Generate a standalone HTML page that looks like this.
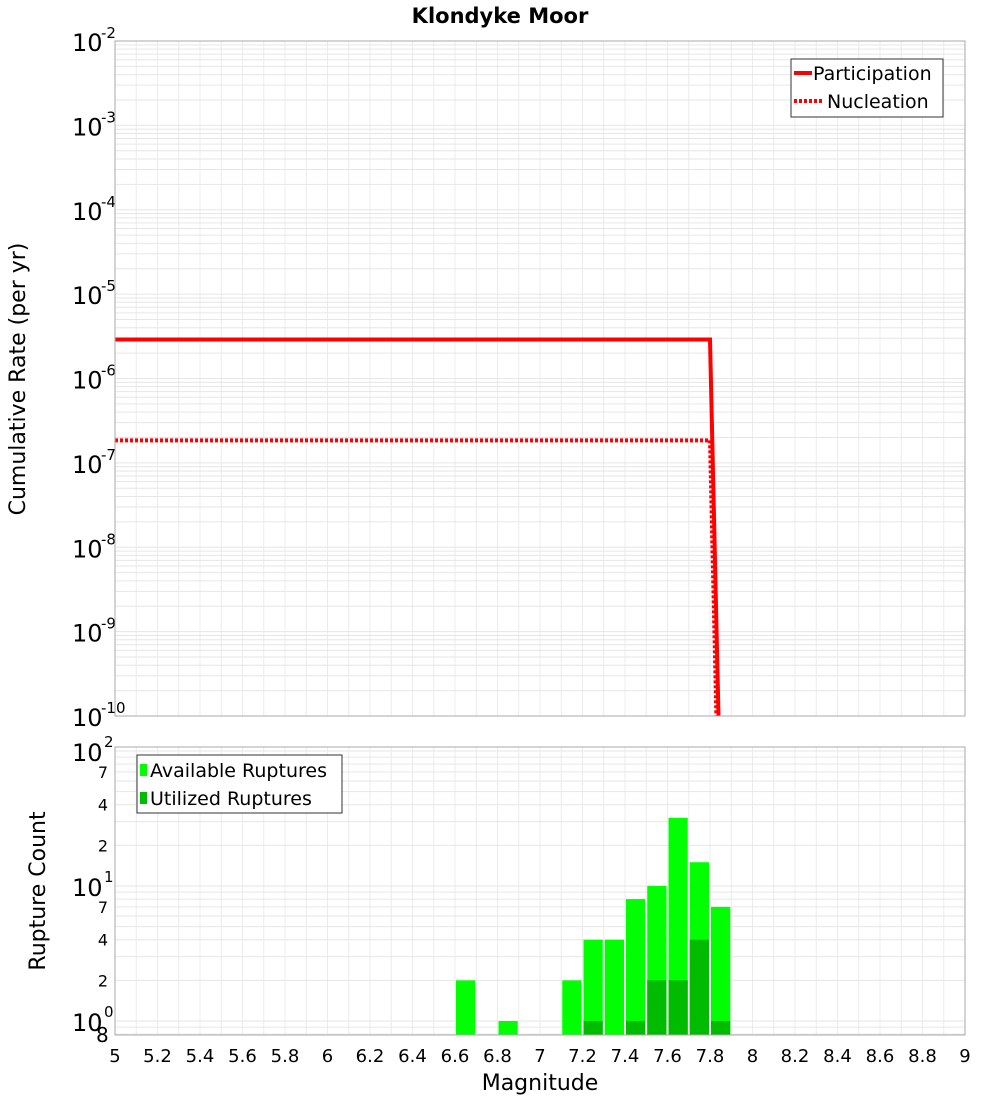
<!DOCTYPE html>
<html><head><meta charset="utf-8"><style>body{margin:0;background:#fff}svg{font-family:"DejaVu Sans","Liberation Sans",sans-serif}</style></head>
<body>
<svg id="c" width="1000" height="1100" xmlns="http://www.w3.org/2000/svg">
<text x="500" y="23" text-anchor="middle" font-weight="bold" font-size="21">Klondyke Moor</text>
<g id="topPlot"></g>
<g id="botPlot"></g>
<text transform="translate(25,379) rotate(-90)" text-anchor="middle" font-size="22">Cumulative Rate (per yr)</text>
<text transform="translate(45,891) rotate(-90)" text-anchor="middle" font-size="22">Rupture Count</text>
<text x="540" y="1090" text-anchor="middle" font-size="22">Magnitude</text>
</svg>
<script>
const partMag=[5,7.8,7.84];
const partRate=[2.9e-6,2.9e-6,1e-10];
const nuclMag=[5,7.8,7.83];
const nuclRate=[1.85e-7,1.85e-7,1e-10];
const binMags=[6.65,6.85,7.15,7.25,7.35,7.45,7.55,7.65,7.75,7.85];
const availCounts=[2,1,2,4,4,8,10,32,15,7];
const usedMags=[7.25,7.45,7.55,7.65,7.75,7.85];
const usedCounts=[1,1,2,2,4,1];
const xTicks=[5,5.2,5.4,5.6,5.8,6,6.2,6.4,6.6,6.8,7,7.2,7.4,7.6,7.8,8,8.2,8.4,8.6,8.8,9];

const NS='http://www.w3.org/2000/svg';
function mk(p,t,a){const e=document.createElementNS(NS,t);for(const k in a)e.setAttribute(k,a[k]);p.appendChild(e);return e;}
const L=115,R=965;
const X=m=>L+(m-5)/4*(R-L);
const T0=41,T1=716;
const YT=v=>T0+(-2-Math.log10(v))/8*(T1-T0);
const B0=747,B1=1035;
const YB=v=>1021-Math.log10(v)*135;
const gTop=document.getElementById('topPlot'),gBot=document.getElementById('botPlot');
function grids(g,y0,y1,ys){
  mk(g,'rect',{x:L,y:y0,width:R-L,height:y1-y0,fill:'#fff',stroke:'none'});
  for(let i=0;i<=40;i++){const m=5+i*0.1;mk(g,'line',{x1:X(m),x2:X(m),y1:y0,y2:y1,stroke:'#ececec','stroke-width':1});}
  ys.forEach(y=>mk(g,'line',{x1:L,x2:R,y1:y,y2:y,stroke:'#e6e6e6','stroke-width':1}));
}
let ty=[];for(let d=-10;d<-2;d++)for(let k=1;k<10;k++)ty.push(YT(k*Math.pow(10,d)));
grids(gTop,T0,T1,ty);
let by=[];[1,10].forEach(d=>{for(let k=1;k<10;k++)by.push(YB(k*d));});by.push(YB(0.8),YB(0.9),YB(100));
grids(gBot,B0,B1,by.filter(y=>y>=B0&&y<=B1));
for(let d=-10;d<=-2;d++){
  const y=YT(Math.pow(10,d));
  const a=mk(gTop,'text',{x:72,y:y+10,'font-size':24});a.textContent='10';
  
  
  const s=mk(gTop,'text',{x:101,y:y-3,'font-size':15});s.textContent=String(d);
}
function poly(g,xs,ys,dash,name){
  const p=mk(g,'polyline',{points:xs.map((m,i)=>X(m)+','+YT(ys[i])).join(' '),fill:'none',stroke:'#ff0000','stroke-width':4});
  if(dash)p.setAttribute('stroke-dasharray','3,2');
  
  
}
poly(gTop,nuclMag,nuclRate,true,'nucleation-line');
poly(gTop,partMag,partRate,false,'participation-line');
mk(gTop,'rect',{x:L,y:T0,width:R-L,height:T1-T0,fill:'none',stroke:'#aaa'});
const lg=mk(gTop,'g',{});


mk(lg,'rect',{x:791,y:59,width:152,height:58,fill:'#fff',stroke:'#333'});
mk(lg,'line',{x1:794,x2:812,y1:73,y2:73,stroke:'#f00','stroke-width':4});
mk(lg,'line',{x1:794,x2:822,y1:101,y2:101,stroke:'#f00','stroke-width':4,'stroke-dasharray':'3,2'});
let tx=mk(lg,'text',{x:813,y:80,'font-size':19});tx.textContent='Participation';
tx=mk(lg,'text',{x:827,y:108,'font-size':19});tx.textContent='Nucleation';
function bars(mags,vals,col,name){
  mags.forEach((m,i)=>{const y=YB(vals[i]);
    const r=mk(gBot,'rect',{x:X(m-0.05)+1,y:y,width:X(5.1)-L-2,height:B1-y,fill:col});
    
    });
}
bars(binMags,availCounts,'#00ff00','available-bar');
bars(usedMags,usedCounts,'#00bb00','utilized-bar');
mk(gBot,'rect',{x:L,y:B0,width:R-L,height:B1-B0,fill:'none',stroke:'#aaa'});
[[100,'2'],[10,'1'],[1,'0']].forEach(([v,e])=>{const y=YB(v);
  let a=mk(gBot,'text',{x:72,y:y+10,'font-size':24});a.textContent='10';
  
  
  a=mk(gBot,'text',{x:104,y:y-4,'font-size':15});a.textContent=e;});
[70,40,20,7,4,2].forEach(v=>{const a=mk(gBot,'text',{x:108,y:YB(v)+6,'font-size':16,'text-anchor':'end'});a.textContent=String(v>=20?v/10:v);});
tx=mk(gBot,'text',{x:96,y:1042,'font-size':20});tx.textContent='8';
xTicks.forEach(v=>{const a=mk(gBot,'text',{x:X(v),y:1062,'font-size':18,'text-anchor':'middle'});a.textContent=String(v);
  
  });
const lb=mk(gBot,'g',{});


mk(lb,'rect',{x:137,y:755,width:205,height:58,fill:'#fff',stroke:'#333'});
mk(lb,'rect',{x:140,y:764,width:7,height:12,fill:'#00ff00'});
mk(lb,'rect',{x:140,y:792,width:7,height:12,fill:'#00bb00'});
tx=mk(lb,'text',{x:150,y:777,'font-size':19});tx.textContent='Available Ruptures';
tx=mk(lb,'text',{x:150,y:805,'font-size':19});tx.textContent='Utilized Ruptures';
</script>
</body></html>
